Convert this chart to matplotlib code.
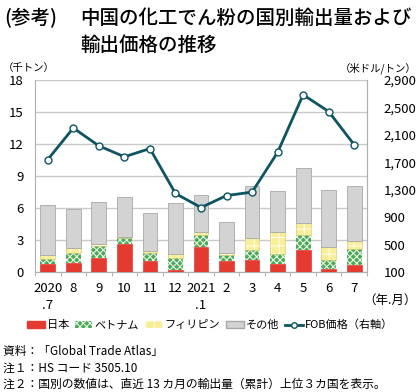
import matplotlib.pyplot as plt
import numpy as np
from matplotlib.patches import Patch
from matplotlib.lines import Line2D
from matplotlib.ticker import FuncFormatter

plt.rcParams['font.family'] = ['Noto Sans CJK JP', 'DejaVu Sans']
plt.rcParams['hatch.linewidth'] = 0.8

months = ["2020\n.7", "8", "9", "10", "11", "12", "2021\n.1", "2", "3", "4", "5", "6", "7"]
japan = [0.75, 0.87, 1.28, 2.65, 1.06, 0.22, 2.37, 1.06, 1.12, 0.72, 2.06, 0.31, 0.62]
vietnam = [0.43, 0.87, 1.15, 0.50, 0.75, 1.12, 1.09, 0.53, 0.90, 0.99, 1.43, 0.81, 1.50]
philippines = [0.42, 0.53, 0.16, 0.15, 0.18, 0.31, 0.25, 0.15, 1.19, 2.03, 1.06, 1.22, 0.75]
others = [4.70, 3.65, 3.98, 3.74, 3.56, 4.83, 3.52, 2.96, 4.89, 3.86, 5.20, 5.35, 5.17]
fob = [1740, 2200, 1940, 1780, 1900, 1245, 1040, 1215, 1265, 1845, 2685, 2440, 1955]

c_japan = '#E53A2F'
c_viet = '#4BAA55'
c_phil = '#F8EE98'
c_other = '#D3D3D3'
c_line = '#0D5561'
grid_c = '#C9C9C9'

fig = plt.figure(figsize=(4.2, 3.92), dpi=100)
ax = fig.add_axes([35 / 420, 1 - 272 / 392, 332 / 420, 192 / 392])
ax2 = ax.twinx()

x = np.arange(len(months))
w = 0.58
j = np.array(japan)
v = np.array(vietnam)
p = np.array(philippines)
o = np.array(others)

ax.bar(x, j, w, color=c_japan, edgecolor=c_japan, linewidth=0.5, zorder=3)
ax.bar(x, v, w, bottom=j, facecolor=c_viet, edgecolor='#E8F4E8', hatch='xxxxx',
       linewidth=0, zorder=3)
ax.bar(x, p, w, bottom=j + v, facecolor=c_phil, edgecolor='#FFFCE8', hatch='++',
       linewidth=0, zorder=3)
ax.bar(x, p, w, bottom=j + v, fill=False, edgecolor='#D8CC70', linewidth=0.5, zorder=3)
ax.bar(x, o, w, bottom=j + v + p, color=c_other, edgecolor='#A8A8A8', linewidth=0.6, zorder=3)

ax.set_xlim(-0.5, len(months) - 0.5)
ax.set_ylim(0, 18)
ax.set_yticks(range(0, 19, 3))
ax.grid(axis='y', color=grid_c, linewidth=1.0, zorder=0)
ax.set_axisbelow(True)
ax.set_xticks(x)
ax.set_xticklabels(months, fontsize=9.5, linespacing=1.4)
ax.set_xticks(np.arange(-0.5, len(months), 1), minor=True)
ax.tick_params(axis='x', which='major', length=0, pad=7)
ax.tick_params(axis='x', which='minor', length=3, color='#A0A0A0')
ax.tick_params(axis='y', length=0, labelsize=9.5, pad=8)
ax.spines['top'].set_visible(False)
for s in ['left', 'bottom', 'right']:
    ax.spines[s].set_color('#B0B0B0')

ax2.plot(x, fob, color=c_line, linewidth=2, marker='o', markersize=5,
         markerfacecolor='white', markeredgecolor=c_line, markeredgewidth=1, zorder=5)
ax2.set_ylim(100, 2900)
ax2.set_yticks(range(100, 2901, 400))
ax2.yaxis.set_major_formatter(FuncFormatter(lambda val, pos: "{:,}".format(int(val))))
ax2.tick_params(axis='y', length=0, labelsize=9.5, pad=12)
for s in ['top', 'left', 'bottom']:
    ax2.spines[s].set_visible(False)
ax2.spines['right'].set_color('#B0B0B0')

# titles and units
fig.text(4 / 420, 1 - 18 / 392, "(参考)", fontsize=14, va='center', ha='left',
         fontweight='medium')
fig.text(80 / 420, 1 - 18 / 392, "中国の化工でん粉の国別輸出量および", fontsize=14,
         va='center', ha='left', fontweight='medium')
fig.text(80 / 420, 1 - 45 / 392, "輸出価格の推移", fontsize=14, va='center', ha='left',
         fontweight='medium')
fig.text(3 / 420, 1 - 68 / 392, "（千トン）", fontsize=7.5, va='center', ha='left')
fig.text(417 / 420, 1 - 68 / 392, "（米ドル/トン）", fontsize=7.5, va='center', ha='right')
fig.text(417 / 420, 1 - 300 / 392, "（年.月）", fontsize=9, va='center', ha='right')

handles = [Patch(facecolor=c_japan, edgecolor=c_japan),
           Patch(facecolor=c_viet, edgecolor='#E8F4E8', hatch='xxxxx', linewidth=0),
           Patch(facecolor=c_phil, edgecolor='#FFFCE8', hatch='++', linewidth=0),
           Patch(facecolor=c_other, edgecolor='#A8A8A8'),
           Line2D([0], [0], color=c_line, linewidth=2, marker='o', markersize=4,
                  markerfacecolor='white', markeredgecolor=c_line)]
labels = ["日本", "ベトナム", "フィリピン", "その他", "FOB価格（右軸）"]
fig.legend(handles, labels, loc='center', bbox_to_anchor=(0.5, 1 - 325 / 392), ncol=5,
           frameon=False, fontsize=8, handlelength=1.6, handleheight=0.6,
           handletextpad=0.2, columnspacing=0.5)

fig.text(3 / 420, 1 - 352 / 392, "資料：「Global Trade Atlas」", fontsize=8.5, va='center')
fig.text(3 / 420, 1 - 368 / 392, "注１：HS コード 3505.10", fontsize=8.5, va='center')
fig.text(3 / 420, 1 - 384 / 392, "注２：国別の数値は、直近 13 カ月の輸出量（累計）上位３カ国を表示。",
         fontsize=8.5, va='center')

fig.savefig("out.png", dpi=100)
